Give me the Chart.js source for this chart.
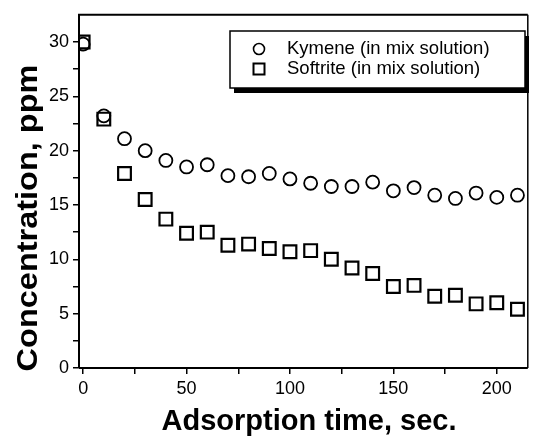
<!DOCTYPE html>
<html>
<head>
    <title>Adsorption</title>
    <script src="https://cdn.jsdelivr.net/npm/chart.js@4"></script>
    <style>
        html, body { margin: 0; padding: 0; background: #fff; overflow: hidden; }
        canvas { display: block; }
    </style>
</head>
<body>
    <canvas id="adsChart" width="539" height="437"></canvas>

    <script>
    // adsorption time, sec.
    const times = [0, 10, 20, 30, 40, 50, 60, 70, 80, 90, 100, 110, 120, 130, 140, 150, 160, 170, 180, 190, 200, 210];
    // concentration, ppm
    const kymene = [29.8, 23.2, 21.1, 20.0, 19.1, 18.5, 18.7, 17.7, 17.6, 17.9, 17.4, 17.0, 16.7, 16.7, 17.1, 16.3, 16.6, 15.9, 15.6, 16.1, 15.7, 15.9];
    const softrite = [30.0, 22.9, 17.9, 15.5, 13.7, 12.4, 12.5, 11.3, 11.4, 11.0, 10.7, 10.8, 10.0, 9.2, 8.7, 7.5, 7.6, 6.6, 6.7, 5.9, 6.0, 5.4];

    const xTicks = [0, 25, 50, 75, 100, 125, 150, 175, 200];
    const yTicks = [0, 2.5, 5, 7.5, 10, 12.5, 15, 17.5, 20, 22.5, 25, 27.5, 30];
    const seriesNames = ['Kymene (in mix solution)', 'Softrite (in mix solution)'];
    const xTitle = 'Adsorption time, sec.';
    const yTitle = 'Concentration, ppm';

    const FONT = 'Arial, "Liberation Sans", sans-serif';

    function toPoints(ys) {
        return times.map((t, i) => ({ x: t, y: ys[i] }));
    }

    // frame, axis titles and the boxed legend with a shadow
    const decor = {
        id: 'decor',
        afterDraw(chart) {
            const ctx = chart.ctx;
            const a = chart.chartArea;
            ctx.save();
            ctx.strokeStyle = '#000';
            ctx.lineWidth = 2;
            ctx.beginPath();
            ctx.moveTo(a.left, a.bottom);
            ctx.lineTo(a.left, a.top);
            ctx.lineTo(a.right, a.top);
            ctx.moveTo(a.left, a.bottom);
            ctx.lineTo(a.right, a.bottom);
            ctx.stroke();
            ctx.lineWidth = 1.5;
            ctx.beginPath();
            ctx.moveTo(a.right, a.top);
            ctx.lineTo(a.right, a.bottom);
            ctx.stroke();

            // titles
            ctx.fillStyle = '#000';
            ctx.font = 'bold 29px ' + FONT;
            ctx.textAlign = 'center';
            ctx.textBaseline = 'middle';
            ctx.fillText(xTitle, 309, 422);
            ctx.save();
            ctx.translate(29, 218);
            ctx.rotate(-Math.PI / 2);
            ctx.scale(1.12, 1);
            ctx.fillText(yTitle, 0, 0);
            ctx.restore();

            // legend
            const bx = 230, by = 31, bw = 295, bh = 57;
            ctx.fillStyle = '#000';
            ctx.fillRect(bx + 4, by + 5, bw, bh);
            ctx.fillStyle = '#fff';
            ctx.fillRect(bx, by, bw, bh);
            ctx.lineWidth = 1.5;
            ctx.strokeRect(bx, by, bw, bh);

            ctx.font = '18.5px ' + FONT;
            ctx.textAlign = 'left';
            ctx.fillStyle = '#000';
            ctx.lineWidth = 1.6;
            // circle
            ctx.beginPath();
            ctx.arc(259, 49, 5.5, 0, Math.PI * 2);
            ctx.stroke();
            ctx.fillText(seriesNames[0], 287, 49);
            // square
            ctx.lineWidth = 2;
            ctx.strokeRect(253.5, 63.5, 11, 11);
            ctx.fillText(seriesNames[1], 287, 69);
            ctx.restore();
        }
    };

    function fixedTicks(list) {
        return function (scale) {
            scale.ticks = list.map(v => ({ value: v }));
        };
    }

    const ctx = document.getElementById('adsChart').getContext('2d');
    new Chart(ctx, {
        type: 'scatter',
        data: {
            datasets: [
                {
                    label: seriesNames[0],
                    data: toPoints(kymene),
                    pointStyle: 'circle',
                    pointRadius: 6.5,
                    pointBorderWidth: 1.8,
                    borderColor: '#000',
                    backgroundColor: 'rgba(255,255,255,0)'
                },
                {
                    label: seriesNames[1],
                    data: toPoints(softrite),
                    pointStyle: 'rect',
                    pointRadius: 9,
                    pointBorderWidth: 2.2,
                    borderColor: '#000',
                    backgroundColor: 'rgba(255,255,255,0)'
                }
            ]
        },
        options: {
            responsive: false,
            animation: false,
            devicePixelRatio: 1,
            layout: { padding: { top: 14, right: 11, left: 0, bottom: 0 } },
            plugins: {
                legend: { display: false },
                tooltip: { enabled: false }
            },
            scales: {
                x: {
                    type: 'linear',
                    min: -2,
                    max: 215,
                    afterBuildTicks: fixedTicks(xTicks),
                    afterFit(scale) { scale.height = 69; },
                    border: { display: false },
                    grid: { drawOnChartArea: false, tickLength: 6, color: '#000', lineWidth: 1.5 },
                    ticks: {
                        color: '#000',
                        font: { family: FONT, size: 18 },
                        padding: 4,
                        maxRotation: 0,
                        callback: v => (v % 50 === 0 ? v : '')
                    }
                },
                y: {
                    type: 'linear',
                    min: 0,
                    max: 32.5,
                    afterBuildTicks: fixedTicks(yTicks),
                    afterFit(scale) { scale.width = 79; },
                    border: { display: false },
                    grid: { drawOnChartArea: false, tickLength: 6, color: '#000', lineWidth: 1.5 },
                    ticks: {
                        color: '#000',
                        font: { family: FONT, size: 18 },
                        padding: 4,
                        callback: v => (v % 5 === 0 ? v : '')
                    }
                }
            }
        },
        plugins: [decor]
    });
    </script>
</body>
</html>
